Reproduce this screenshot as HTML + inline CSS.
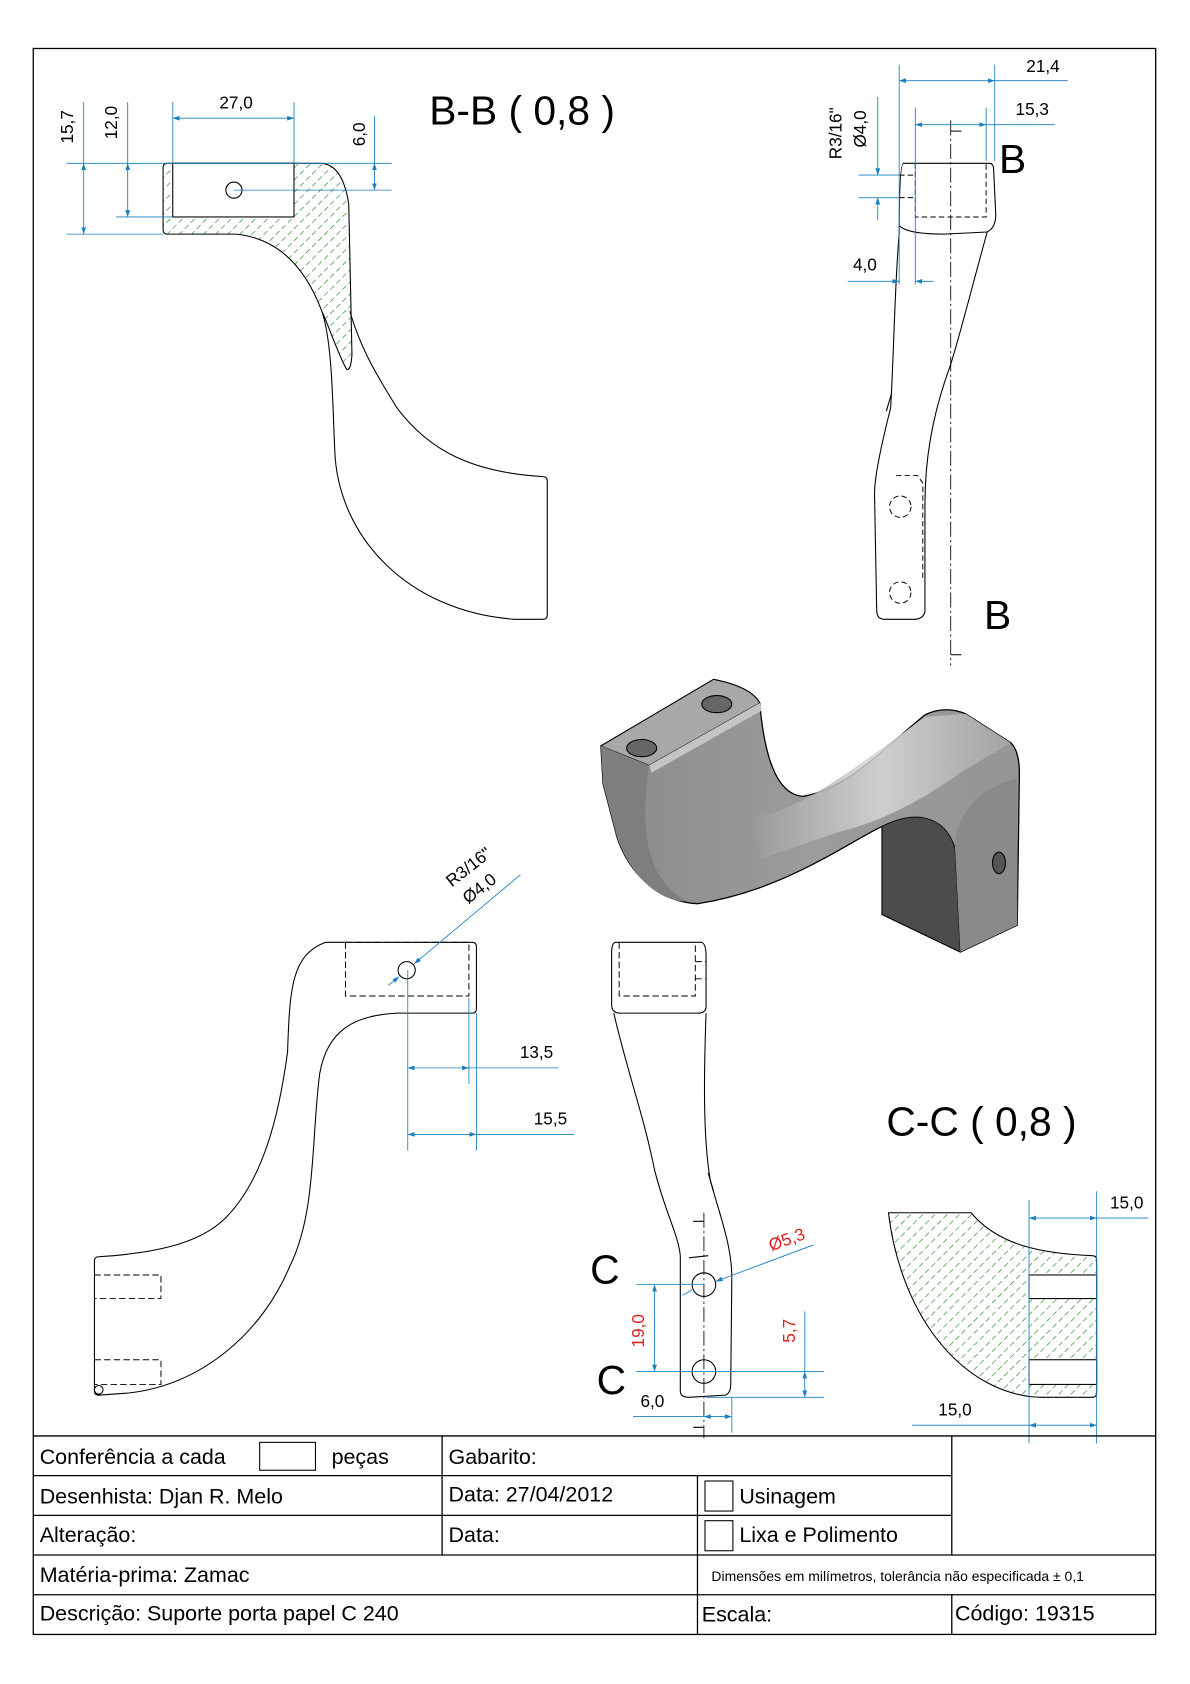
<!DOCTYPE html>
<html><head><meta charset="utf-8"><style>
html,body{margin:0;padding:0;background:#fff}
svg{display:block}
text{font-family:"Liberation Sans",sans-serif}
</style></head><body>
<svg width="1190" height="1684" viewBox="0 0 1109 1569" xmlns="http://www.w3.org/2000/svg">
<defs>
<pattern id="h" patternUnits="userSpaceOnUse" width="8" height="8" patternTransform="rotate(45)">
<line x1="0" y1="0" x2="0" y2="8" stroke="#1f8a1f" stroke-width="1.2" stroke-dasharray="5,3"/>
</pattern>
<marker id="a" viewBox="0 0 10 10" refX="10" refY="5" markerWidth="8" markerHeight="8" orient="auto-start-reverse"><path d="M0,1.5 L10,5 L0,8.5Z" fill="#1a7fc0"/></marker>
<linearGradient id="g1" x1="0" y1="0" x2="1" y2="0"><stop offset="0" stop-color="#8a8a8a"/><stop offset="0.5" stop-color="#9c9c9c"/><stop offset="1" stop-color="#959595"/></linearGradient>
<linearGradient id="g2" x1="0" y1="0" x2="1" y2="0"><stop offset="0" stop-color="#999"/><stop offset="0.5" stop-color="#d8d8d8"/><stop offset="1" stop-color="#a5a5a5"/></linearGradient>
</defs>
<rect width="1109" height="1569" fill="#fff"/>
<rect x="31" y="45" width="1046" height="1478" fill="none" stroke="#000" stroke-width="1.2"/>

<!-- ===== B-B section ===== -->
<g fill="none" stroke="#000" stroke-width="1">
<path d="M300,290 C310,320 310,380 312,420 C315,500 380,570 480,577 L506,577 Q510,577 510,573 L510,448 Q510,444 506,444 C440,440 400,420 370,380 C345,340 335,320 326,290"/>
</g>
<path d="M152,156 Q152,152 156,152 L298,152 C315,152 322,170 325,190 L328,330 Q327,346 323,344 C315,330 305,300 300,290 C285,250 260,222 220,218 L156,218 Q152,218 152,214 Z" fill="url(#h)" stroke="#000" stroke-width="1"/>
<rect x="161" y="152" width="113" height="50" fill="#fff" stroke="#000" stroke-width="1"/>
<circle cx="218" cy="177" r="7.5" fill="#fff" stroke="#000"/>
<g stroke="#1a7fc0" stroke-width="0.8" fill="none">
<line x1="161" y1="95" x2="161" y2="152"/><line x1="274" y1="95" x2="274" y2="152"/>
<line x1="161" y1="110" x2="274" y2="110" marker-start="url(#a)" marker-end="url(#a)"/>
<line x1="62" y1="152" x2="365" y2="152"/><line x1="62" y1="218" x2="152" y2="218"/><line x1="108" y1="202" x2="161" y2="202"/>
<line x1="78" y1="152" x2="78" y2="218" marker-start="url(#a)" marker-end="url(#a)"/>
<line x1="78" y1="95" x2="78" y2="152"/>
<line x1="119" y1="95" x2="119" y2="152"/>
<line x1="119" y1="152" x2="119" y2="202" marker-start="url(#a)" marker-end="url(#a)"/>
<line x1="218" y1="177" x2="365" y2="177"/>
<line x1="349" y1="108" x2="349" y2="152"/>
<line x1="349" y1="152" x2="349" y2="177" marker-start="url(#a)" marker-end="url(#a)"/>
</g>
<text x="220" y="101" font-size="16" text-anchor="middle">27,0</text>
<text transform="translate(68,118) rotate(-90)" font-size="16" text-anchor="middle">15,7</text>
<text transform="translate(109,114) rotate(-90)" font-size="16" text-anchor="middle">12,0</text>
<text transform="translate(340,125) rotate(-90)" font-size="16" text-anchor="middle">6,0</text>
<text x="400" y="116" font-size="38">B-B ( 0,8 )</text>

<!-- ===== Top right view ===== -->
<g fill="none" stroke="#000" stroke-width="1">
<path d="M842,152 L922,152 Q926,152 926,158 L928,200 Q928,212 920,216 C905,270 890,330 884,345 C868,390 862,430 862,470 L862,570 Q860,577 852,577 L824,577 Q817,577 817,568 L815,460 C815,440 825,400 830,380 C833,330 834,260 838,218 Q838,152 842,152Z"/>
<path d="M838,210 Q845,218 880,218 L920,216"/>
<path d="M831,366 L826,383"/>
</g>
<g fill="none" stroke="#000" stroke-width="0.9" stroke-dasharray="5,3">
<path d="M853,152 L853,202 L919,202 L919,152"/>
<line x1="838" y1="163" x2="853" y2="163"/><line x1="838" y1="184" x2="853" y2="184"/>
<circle cx="839" cy="472" r="10"/><circle cx="839" cy="552" r="10"/>
<path d="M835,443 L855,443 L860,450 L860,540"/>
</g>
<line x1="886" y1="112" x2="886" y2="620" stroke="#000" stroke-width="0.8" stroke-dasharray="14,3,2,3"/>
<path d="M886,122 L896,122 M886,610 L896,610" stroke="#000"/>
<g stroke="#1a7fc0" stroke-width="0.8" fill="none">
<line x1="838" y1="60" x2="838" y2="265"/><line x1="927" y1="60" x2="927" y2="150"/>
<line x1="853" y1="100" x2="853" y2="265"/><line x1="919" y1="100" x2="919" y2="150"/>
<line x1="838" y1="75" x2="927" y2="75" marker-start="url(#a)" marker-end="url(#a)"/>
<line x1="927" y1="75" x2="995" y2="75"/>
<line x1="853" y1="116" x2="919" y2="116" marker-start="url(#a)" marker-end="url(#a)"/>
<line x1="919" y1="116" x2="983" y2="116"/>
<line x1="790" y1="262" x2="838" y2="262" marker-end="url(#a)"/>
<line x1="870" y1="262" x2="853" y2="262" marker-end="url(#a)"/>
<line x1="818" y1="90" x2="818" y2="163" marker-end="url(#a)"/>
<line x1="818" y1="205" x2="818" y2="184" marker-end="url(#a)"/>
<line x1="800" y1="163" x2="838" y2="163"/><line x1="800" y1="184" x2="838" y2="184"/>
</g>
<text x="972" y="67" font-size="16" text-anchor="middle">21,4</text>
<text x="962" y="107" font-size="16" text-anchor="middle">15,3</text>
<text x="806" y="252" font-size="16" text-anchor="middle">4,0</text>
<text transform="translate(784,124) rotate(-90)" font-size="16" text-anchor="middle">R3/16"</text>
<text transform="translate(807,120) rotate(-90)" font-size="16" text-anchor="middle">Ø4,0</text>
<text x="931" y="161" font-size="38">B</text>
<text x="917" y="586" font-size="38">B</text>

<!-- ===== 3D ===== -->
<path d="M560,695 L665,633 Q700,640 708,655 C712,700 722,740 748,742 C790,735 820,700 862,666 Q880,657 900,665 L942,692 Q950,700 950,720 L948,862 L895,887 L822,852 L822,770 C790,785 730,830 650,842 C610,840 585,810 575,780 L562,730 Z" fill="url(#g1)" stroke="#000" stroke-width="1.2"/>
<path d="M700,760 C740,760 790,720 862,668 L900,665 L942,692 L895,720 C860,745 830,760 800,770 C770,778 740,790 710,800 Z" fill="url(#g2)" opacity="0.85"/>
<path d="M560,695 L665,633 Q700,640 708,655 L605,713 Z" fill="#a8a8a8" stroke="#000" stroke-width="0.8"/>
<path d="M605,713 L708,655 L710,662 L607,720 Z" fill="#c4c4c4"/>
<path d="M560,695 L605,713 C595,780 605,820 640,840 C610,840 585,810 575,780 L562,730Z" fill="#7e7e7e"/>
<path d="M822,770 C850,755 880,758 890,790 L895,887 L822,852 Z" fill="#4c4c4c" stroke="#000" stroke-width="0.8"/>
<path d="M890,790 C890,760 910,735 948,725 L948,862 L895,887 Z" fill="#8a8a8a"/>
<ellipse cx="598" cy="697" rx="14" ry="8" fill="#666" stroke="#000"/>
<ellipse cx="668" cy="656" rx="14" ry="8" fill="#666" stroke="#000"/>
<ellipse cx="931" cy="804" rx="6" ry="10" fill="#555" stroke="#000"/>

<!-- ===== Bottom left view ===== -->
<g fill="none" stroke="#000" stroke-width="1">
<path d="M303,878 L440,878 Q444,878 444,882 L444,940 Q444,944 440,944 L370,944 C330,946 305,960 298,1000 C290,1060 295,1130 270,1180 C245,1240 190,1290 120,1298 L92,1300 Q88,1300 88,1296 L88,1175 Q88,1171 92,1171 C140,1168 185,1160 210,1135 C245,1100 260,1040 268,980 C270,920 272,890 303,878Z"/>
<circle cx="92" cy="1295" r="4"/>
</g>
<g fill="none" stroke="#000" stroke-width="0.9" stroke-dasharray="6,3">
<rect x="322" y="878" width="115" height="50"/>
<path d="M88,1188 L150,1188 L150,1210 L88,1210"/>
<path d="M88,1267 L150,1267 L150,1290 L88,1290"/>
</g>
<circle cx="379" cy="904" r="8" fill="#fff" stroke="#000"/>
<g stroke="#1a7fc0" stroke-width="0.8" fill="none">
<line x1="485" y1="815" x2="386" y2="898" marker-end="url(#a)"/>
<line x1="362" y1="918" x2="372" y2="910" marker-end="url(#a)"/>
<line x1="380" y1="904" x2="380" y2="1072"/><line x1="437" y1="930" x2="437" y2="1010"/><line x1="444" y1="944" x2="444" y2="1072"/>
<line x1="380" y1="995" x2="437" y2="995" marker-start="url(#a)" marker-end="url(#a)"/>
<line x1="437" y1="995" x2="520" y2="995"/>
<line x1="380" y1="1057" x2="444" y2="1057" marker-start="url(#a)" marker-end="url(#a)"/>
<line x1="444" y1="1057" x2="535" y2="1057"/>
</g>
<text x="500" y="986" font-size="16" text-anchor="middle">13,5</text>
<text x="513" y="1048" font-size="16" text-anchor="middle">15,5</text>
<text transform="translate(440,812) rotate(-38)" font-size="16" text-anchor="middle">R3/16"</text>
<text transform="translate(450,832) rotate(-38)" font-size="16" text-anchor="middle">Ø4,0</text>

<!-- ===== Bottom middle view ===== -->
<g fill="none" stroke="#000" stroke-width="1">
<path d="M574,878 L654,878 Q658,880 658,890 L658,938 Q658,944 650,944 L578,944 Q570,944 570,936 L570,888 Q570,878 574,878Z"/>
<path d="M572,944 C585,1000 600,1040 610,1090 C620,1130 632,1150 634,1170 L634,1296 Q634,1302 642,1302 L676,1300 Q681,1298 681,1290 L682,1190 C682,1160 670,1130 662,1100 C655,1060 656,1000 658,944"/>
<path d="M660,1093 L665,1110 M642,1172 L660,1170"/>
</g>
<g fill="none" stroke="#000" stroke-width="0.9" stroke-dasharray="6,3">
<path d="M577,878 L577,928 L648,928 L648,878"/>
<line x1="648" y1="896" x2="658" y2="896"/><line x1="648" y1="912" x2="658" y2="912"/>
</g>
<circle cx="656" cy="1197" r="11" fill="#fff" stroke="#000"/>
<circle cx="656" cy="1278" r="11" fill="#fff" stroke="#000"/>
<line x1="656" y1="1130" x2="656" y2="1340" stroke="#000" stroke-width="0.8" stroke-dasharray="14,3,2,3"/>
<path d="M656,1138 L646,1138 M656,1330 L646,1330" stroke="#000"/>
<g stroke="#1a7fc0" stroke-width="0.8" fill="none">
<line x1="758" y1="1160" x2="667" y2="1194" marker-end="url(#a)"/>
<line x1="645" y1="1202" x2="636" y2="1207"/>
<line x1="593" y1="1197" x2="656" y2="1197"/><line x1="593" y1="1278" x2="768" y2="1278"/>
<line x1="610" y1="1197" x2="610" y2="1278" marker-start="url(#a)" marker-end="url(#a)"/>
<line x1="658" y1="1302" x2="768" y2="1302"/>
<line x1="750" y1="1222" x2="750" y2="1278"/>
<line x1="750" y1="1278" x2="750" y2="1302" marker-start="url(#a)" marker-end="url(#a)"/>
<line x1="590" y1="1320" x2="656" y2="1320"/>
<line x1="656" y1="1320" x2="682" y2="1320" marker-start="url(#a)" marker-end="url(#a)"/>
<line x1="682" y1="1302" x2="682" y2="1335"/>
</g>
<text transform="translate(735,1160) rotate(-20)" font-size="16" fill="#e02020" text-anchor="middle">Ø5,3</text>
<text transform="translate(600,1240) rotate(-90)" font-size="16" fill="#e02020" text-anchor="middle">19,0</text>
<text transform="translate(741,1240) rotate(-90)" font-size="16" fill="#e02020" text-anchor="middle">5,7</text>
<text x="608" y="1311" font-size="16" text-anchor="middle">6,0</text>
<text x="550" y="1196" font-size="38">C</text>
<text x="556" y="1299" font-size="38">C</text>

<!-- ===== C-C section ===== -->
<path d="M828,1130 L905,1130 C930,1160 970,1168 1018,1170 Q1022,1170 1022,1174 L1022,1298 Q1022,1302 1018,1302 L970,1302 C900,1300 840,1230 828,1130 Z" fill="url(#h)" stroke="#000" stroke-width="1"/>
<rect x="959" y="1188" width="63" height="22" fill="#fff" stroke="#000"/>
<rect x="959" y="1267" width="63" height="23" fill="#fff" stroke="#000"/>
<g stroke="#1a7fc0" stroke-width="0.8" fill="none">
<line x1="959" y1="1118" x2="959" y2="1345"/><line x1="1022" y1="1110" x2="1022" y2="1345"/>
<line x1="959" y1="1135" x2="1022" y2="1135" marker-start="url(#a)" marker-end="url(#a)"/>
<line x1="1022" y1="1135" x2="1070" y2="1135"/>
<line x1="850" y1="1328" x2="959" y2="1328"/>
<line x1="959" y1="1328" x2="1022" y2="1328" marker-start="url(#a)" marker-end="url(#a)"/>
</g>
<text x="1050" y="1126" font-size="16" text-anchor="middle">15,0</text>
<text x="890" y="1319" font-size="16" text-anchor="middle">15,0</text>
<text x="826" y="1058" font-size="38">C-C ( 0,8 )</text>

<!-- ===== Title block ===== -->
<g stroke="#000" stroke-width="1.2" fill="none">
<line x1="31" y1="1338" x2="1077" y2="1338"/>
<line x1="31" y1="1375" x2="887" y2="1375"/>
<line x1="31" y1="1412" x2="887" y2="1412"/>
<line x1="31" y1="1449" x2="1077" y2="1449"/>
<line x1="31" y1="1486" x2="1077" y2="1486"/>
<line x1="412" y1="1338" x2="412" y2="1449"/>
<line x1="650" y1="1375" x2="650" y2="1523"/>
<line x1="887" y1="1338" x2="887" y2="1449"/>
<line x1="887" y1="1486" x2="887" y2="1523"/>
<rect x="242" y="1344" width="52" height="26" stroke-width="1"/>
<rect x="657" y="1380" width="26" height="28" stroke-width="1"/>
<rect x="657" y="1417" width="26" height="28" stroke-width="1"/>
</g>
<g font-size="20">
<text x="37" y="1364">Conferência a cada</text>
<text x="309" y="1364">peças</text>
<text x="418" y="1364">Gabarito:</text>
<text x="37" y="1401">Desenhista: Djan R. Melo</text>
<text x="418" y="1399">Data: 27/04/2012</text>
<text x="689" y="1401">Usinagem</text>
<text x="37" y="1437">Alteração:</text>
<text x="418" y="1437">Data:</text>
<text x="689" y="1437">Lixa e Polimento</text>
<text x="37" y="1474">Matéria-prima: Zamac</text>
<text x="37" y="1510">Descrição: Suporte porta papel C 240</text>
<text x="654" y="1511">Escala:</text>
<text x="890" y="1510">Código: 19315</text>
</g>
<text x="663" y="1473" font-size="13">Dimensões em milímetros, tolerância não especificada ± 0,1</text>
</svg>
</body></html>
